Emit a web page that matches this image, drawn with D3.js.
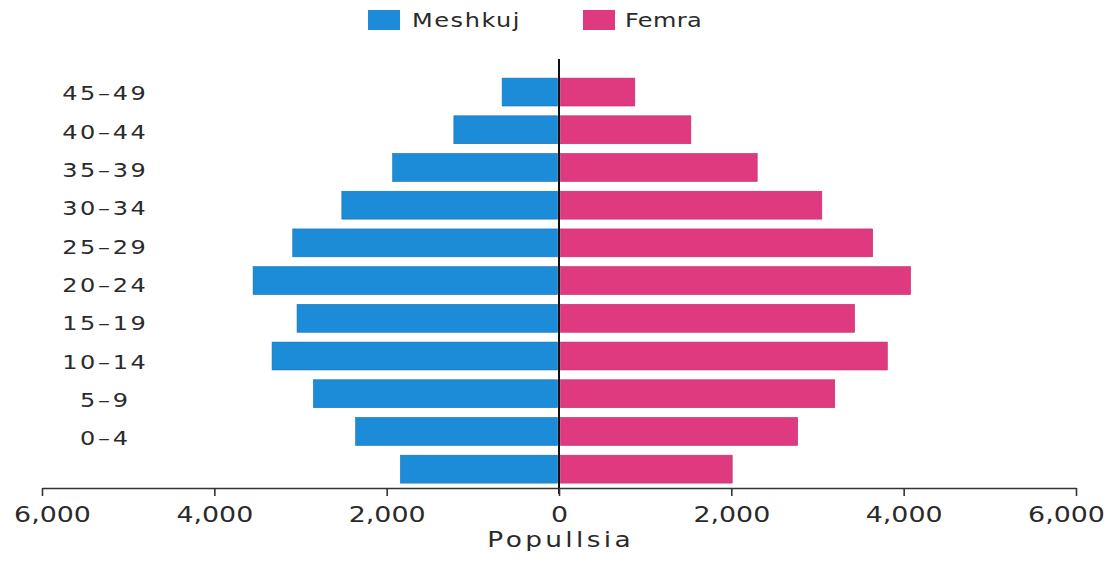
<!DOCTYPE html>
<html>
<head>
<meta charset="utf-8">
<script src="https://cdn.jsdelivr.net/npm/d3@7"></script>
<style>
  body { margin: 0; background: #fff; }
  svg { display: block; }
  text { font-family: "DejaVu Sans", Verdana, sans-serif; fill: #2a2a2a; }
</style>
</head>
<body>
<svg width="1108" height="562"></svg>
<script>
// age groups, top to bottom (the lowest bar has no label in the original)
const ages = ["45–49", "40–44", "35–39", "30–34", "25–29", "20–24", "15–19", "10–14", "5–9", "0–4", ""];
const male = [660, 1220, 1930, 2520, 3090, 3550, 3040, 3330, 2850, 2360, 1840];
const female = [880, 1530, 2300, 3050, 3640, 4080, 3430, 3810, 3200, 2770, 2010];
const ticks = [-6000, -4000, -2000, 0, 2000, 4000, 6000];
const series = ["Meshkuj", "Femra"];
const colors = ["#1c8bd8", "#df3a80"];

const svg = d3.select("svg");
const stretch = 1.2; // the original lettering is wider than any installed font

const x = d3.scaleLinear()
  .domain([-6000, 6000])
  .range([42, 1076]);

const y = d3.scaleBand()
  .domain(d3.range(ages.length))
  .range([73.2, 488])
  .paddingInner(0.26)
  .paddingOuter(0.13);

// labels sit on their own slightly wider spacing in the original
const labelY = d3.scalePoint()
  .domain(ages.filter(a => a !== ""))
  .range([93, 438]);

// bars
svg.selectAll("rect.male")
  .data(male)
  .enter()
  .append("rect")
  .attr("class", "male")
  .attr("x", d => x(-d))
  .attr("width", d => x(0) - x(-d) - 1.5)
  .attr("y", (d, i) => y(i))
  .attr("height", y.bandwidth())
  .attr("fill", colors[0])
  .attr("stroke", "#1470b5")
  .attr("stroke-width", 0.6);

svg.selectAll("rect.female")
  .data(female)
  .enter()
  .append("rect")
  .attr("class", "female")
  .attr("x", x(0) + 1.5)
  .attr("width", d => x(d) - x(0) - 1.5)
  .attr("y", (d, i) => y(i))
  .attr("height", y.bandwidth())
  .attr("fill", colors[1])
  .attr("stroke", "#c02a68")
  .attr("stroke-width", 0.6);

// center line
svg.append("line")
  .attr("x1", x(0)).attr("x2", x(0))
  .attr("y1", 59).attr("y2", 494)
  .attr("stroke", "#111")
  .attr("stroke-width", 2);

// age labels
svg.selectAll("text.age")
  .data(ages.filter(a => a !== ""))
  .enter()
  .append("text")
  .attr("class", "age")
  .attr("transform", d => `translate(104,${labelY(d)}) scale(${stretch},1)`)
  .attr("dx", 1.1)
  .attr("dy", "0.36em")
  .attr("text-anchor", "middle")
  .style("font-size", "20px")
  .style("letter-spacing", "2.2px")
  .text(d => d);

// x axis
const axis = svg.append("g")
  .attr("transform", "translate(0,488)")
  .call(d3.axisBottom(x)
    .tickValues(ticks)
    .tickSize(8)
    .tickSizeOuter(0)
    .tickFormat(d => d3.format(",")(Math.abs(d))));

axis.select(".domain").attr("stroke", "#333").attr("stroke-width", 1.6);
axis.selectAll(".tick line").attr("stroke", "#333").attr("stroke-width", 1.6);
axis.selectAll(".tick text")
  .attr("y", null)
  .attr("dy", 0)
  .attr("transform", d => {
    const shift = d === -6000 ? 10 : d === 6000 ? -10 : 0;
    return `translate(${shift},34) scale(1.22,1)`;
  })
  .style("font-size", "22px")
  .style("font-family", "\"DejaVu Sans\", Verdana, sans-serif")
  .attr("fill", "#2a2a2a");

svg.append("text")
  .attr("transform", `translate(${x(0)},547) scale(${stretch},1)`)
  .attr("dx", 1.4)
  .attr("text-anchor", "middle")
  .style("font-size", "22px")
  .style("letter-spacing", "2.8px")
  .text("Popullsia");

// legend
const legendX = [368, 583];
const legend = svg.selectAll("g.legend")
  .data(series)
  .enter()
  .append("g")
  .attr("class", "legend")
  .attr("transform", (d, i) => `translate(${legendX[i]},10)`);

legend.append("rect")
  .attr("width", 32)
  .attr("height", 20)
  .attr("fill", (d, i) => colors[i]);

legend.append("text")
  .attr("transform", (d, i) => `translate(${i === 0 ? 44 : 42},17) scale(${stretch},1)`)
  .style("font-size", "20px")
  .style("letter-spacing", (d, i) => i === 0 ? "1.3px" : "0.3px")
  .text(d => d);
</script>
</body>
</html>
